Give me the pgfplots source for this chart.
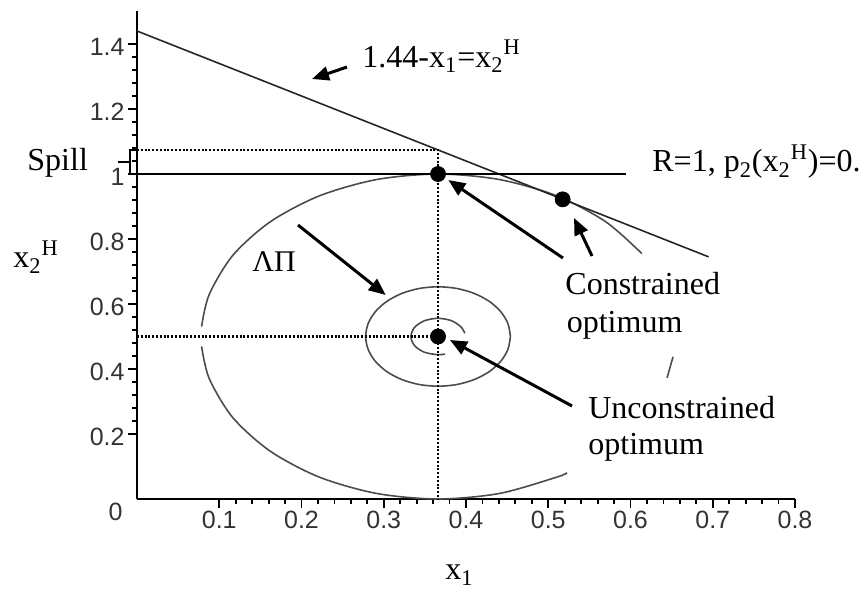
\documentclass[border=0pt]{standalone}
\usepackage{fontspec}
\setmainfont{Liberation Serif}
\newfontfamily\tickfont{Liberation Sans}
\usepackage{pgfplots}
\pgfplotsset{compat=1.18}
\usetikzlibrary{arrows.meta}

\tikzset{
  lbl/.style={anchor=base west, inner sep=0pt, font=\fontsize{16}{19}\selectfont},
  pointer/.style={line width=1.5pt, -{Triangle[length=8.5pt,width=7pt]}},
  guide/.style={black, line width=1.1pt, dash pattern=on 1pt off 0.9pt},
  contour/.style={black!70, line width=0.8pt, smooth},
}

\begin{document}
\begin{tikzpicture}
\begin{axis}[
  x=411.25pt, y=162.5pt,
  xmin=0, xmax=0.8, ymin=0, ymax=1.5,
  axis x line=bottom, axis y line=left,
  axis line style={-, line width=1pt},
  xtick={0.1,0.2,0.3,0.4,0.5,0.6,0.7,0.8},
  ytick={0.2,0.4,0.6,0.8,1,1.2,1.4},
  minor tick num=4,
  tick align=outside,
  major tick length=4.5pt, minor tick length=2.5pt,
  tick style={line width=0.9pt, black},
  tick label style={font=\tickfont\fontsize{12.5}{14}\selectfont, text=black!80, inner sep=1.5pt},
  yticklabel style={yshift=-1.5pt},
  /pgf/number format/assume math mode=true,
  clip=false,
]
% outer contour, split where text boxes hide it
\addplot[contour] coordinates {
  (0.6137,0.7553) (0.5696,0.8536) (0.510,0.933) (0.4405,0.983) (0.366,1.0)
  (0.2915,0.983) (0.222,0.933) (0.1624,0.8536) (0.1166,0.75) (0.0878,0.6294)
  (0.0785,0.5305)};
\addplot[contour] coordinates {
  (0.0785,0.4695) (0.0878,0.3706) (0.1166,0.25) (0.1624,0.1464) (0.222,0.067)
  (0.2915,0.017) (0.366,0) (0.4405,0.017) (0.510,0.067) (0.5228,0.0807)};
\addplot[contour] coordinates {(0.6517,0.4373) (0.6444,0.3723)};
% middle contour
\addplot[contour] coordinates {
  (0.454,0.5) (0.451,0.5396) (0.4422,0.5765) (0.4282,0.6082) (0.410,0.6325)
  (0.3888,0.6478) (0.366,0.653) (0.3432,0.6478) (0.322,0.6325) (0.3038,0.6082)
  (0.2898,0.5765) (0.281,0.5396) (0.278,0.5) (0.281,0.4604) (0.2898,0.4235)
  (0.3038,0.3918) (0.322,0.3675) (0.3432,0.3522) (0.366,0.347) (0.3888,0.3522)
  (0.410,0.3675) (0.4282,0.3918) (0.4422,0.4235) (0.451,0.4604) (0.454,0.5)};
% inner contour
\addplot[contour] coordinates {
  (0.3985,0.5097) (0.3946,0.528) (0.3825,0.5485) (0.366,0.556) (0.3495,0.5485)
  (0.3374,0.528) (0.333,0.5) (0.3374,0.472) (0.3495,0.4515) (0.366,0.444)
  (0.3745,0.4459)};
% constraint line and R=1 line
\addplot[black!85, line width=0.8pt] coordinates {(0,1.44) (0.695,0.745)};
\addplot[black, line width=0.7pt] coordinates {(0,1) (0.595,1)};
% dotted guides
\addplot[guide] coordinates {(0,1.074) (0.366,1.074) (0.366,0)};
\addplot[guide] coordinates {(0,0.5) (0.366,0.5)};

% spill bracket
\draw[line width=1pt] (axis cs:0,1.074) -- (axis cs:-0.0085,1.074)
  -- (axis cs:-0.0085,1.0) -- (axis cs:0,1.0);
\draw[line width=1pt] (axis cs:-0.0231,1.037) -- (axis cs:-0.0085,1.037);

% labels
\node[lbl] at (axis cs:0.2736,1.3292) {1.44-x\textsubscript{1}=x\textsubscript{2}\textsuperscript{H}};
\node[lbl] at (axis cs:0.6261,1.0062) {R=1, p\textsubscript{2}(x\textsubscript{2}\textsuperscript{H})=0.};
\node[lbl] at (axis cs:-0.1337,1.0123) {Spill};
\node[lbl] at (axis cs:-0.1508,0.7108) {x\textsubscript{2}\textsuperscript{H}};
\node[lbl, font=\fontsize{15}{18}\selectfont] at (axis cs:0.1398,0.6985) {ΛΠ};
\node[lbl] at (axis cs:0.5204,0.6277) {Constrained};
\node[lbl] at (axis cs:0.5221,0.5117) {optimum};
\node[lbl] at (axis cs:0.5483,0.2492) {Unconstrained};
\node[lbl] at (axis cs:0.5483,0.1354) {optimum};
\node[lbl] at (axis cs:0.3745,-0.2492) {x\textsubscript{1}};
\node[anchor=east, inner sep=0pt, font=\tickfont\fontsize{12.5}{14}\selectfont, text=black!80]
  at (axis cs:-0.017,-0.04) {0};

% arrows
\draw[pointer] (axis cs:0.2553,1.3292) -- (axis cs:0.2128,1.2923);
\draw[pointer] (axis cs:0.1957,0.8431) -- (axis cs:0.3024,0.6277);
\draw[pointer] (axis cs:0.5179,0.7415) -- (axis cs:0.3785,0.9815);
\draw[pointer] (axis cs:0.5532,0.7477) -- (axis cs:0.5313,0.8646);
\draw[pointer] (axis cs:0.5289,0.2862) -- (axis cs:0.3805,0.4892);

% optima
\addplot[only marks, mark=*, mark size=3.75pt, black] coordinates {
  (0.366,1.0) (0.5175,0.922) (0.366,0.5)};

\coordinate (bbNW) at (axis cs:-0.16657,1.53538);
\coordinate (bbSE) at (axis cs:0.87903,-0.28);
\end{axis}
\pgfresetboundingbox
\path[use as bounding box] (bbNW) rectangle (bbSE);
\end{tikzpicture}
\end{document}
